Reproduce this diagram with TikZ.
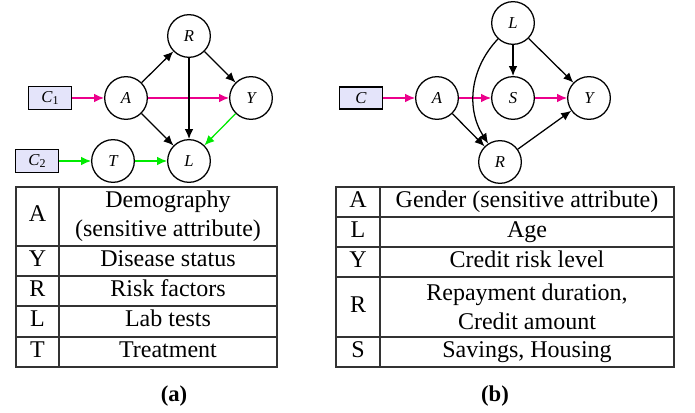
\documentclass[tikz,border=0pt]{standalone}
\usepackage{fontspec}
\setmainfont{Liberation Serif}
\usetikzlibrary{arrows.meta}

\definecolor{cpink}{RGB}{236,0,140}
\definecolor{cgreen}{RGB}{0,235,0}
\definecolor{cbox}{RGB}{228,228,250}

\tikzset{
  var/.style={draw, circle, line width=0.95pt, minimum size=32pt, inner sep=0pt,
    font=\fontsize{12.5}{14}\selectfont\itshape},
  ctx/.style={draw, line width=0.95pt, fill=cbox, minimum width=32pt, minimum height=17.5pt,
    inner sep=0pt, font=\fontsize{12.5}{14}\selectfont},
  edge/.style={-{Latex[length=7.5pt,width=6.5pt]}, line width=0.95pt},
  cell/.style={inner sep=0pt, font=\fontsize{18}{22}\selectfont, text height=12.6pt, text depth=4.5pt},
  cellx/.style={inner sep=0pt, font=\fontsize{18}{22}\selectfont, align=center},
  rule/.style={line width=0.9pt, color=black!80},
  subcap/.style={font=\fontsize{17}{19}\selectfont\bfseries}
}

\newcommand{\subone}[1]{\textit{C}\raisebox{-0.35ex}{\fontsize{9}{10}\selectfont #1}}

\begin{document}
\begin{tikzpicture}[x=0.75pt,y=0.75pt,yscale=-1]
\useasboundingbox (0,0) rectangle (695,413);

% Graph (a)
\node [var] (aR) at (189,36) {R};
\node [var] (aA) at (126,98) {A};
\node [var] (aY) at (251,98) {Y};
\node [var] (aL) at (189,161) {L};
\node [var] (aT) at (113,161) {T};
\node [ctx] (aC1) at (50,98) {\subone{1}};
\node [ctx] (aC2) at (37,161) {\subone{2}};

\draw [edge, cpink] (aC1) -- (aA);
\draw [edge, cpink] (aA) -- (aY);
\draw [edge] (aA) -- (aR);
\draw [edge] (aA) -- (aL);
\draw [edge] (aR) -- (aY);
\draw [edge] (aR) -- (aL);
\draw [edge, cgreen] (aY) -- (aL);
\draw [edge, cgreen] (aC2) -- (aT);
\draw [edge, cgreen] (aT) -- (aL);

% Table (a)
\draw [rule] (16,187) rectangle (277,367);
\draw [rule] (59,187) -- (59,367);
\foreach \y in {246,276,306,337} {
  \draw [rule] (16,\y) -- (277,\y);
}
\node [cell] (taA) at (37.5,216.5) {A};
\node [cellx] (taAd) at (168,216.5) {Demography\\(sensitive attribute)};
\node [cell] (taY) at (37.5,261) {Y};
\node [cell] (taYd) at (168,261) {Disease status};
\node [cell] (taR) at (37.5,291) {R};
\node [cell] (taRd) at (168,291) {Risk factors};
\node [cell] (taL) at (37.5,321.5) {L};
\node [cell] (taLd) at (168,321.5) {Lab tests};
\node [cell] (taT) at (37.5,352) {T};
\node [cell] (taTd) at (168,352) {Treatment};

% Text Node
\node [subcap] (capa) at (174,396) {(a)};

% Graph (b)
\node [var] (bL) at (513,23) {L};
\node [var] (bA) at (437,98) {A};
\node [var] (bS) at (513,98) {S};
\node [var] (bY) at (589,98) {Y};
\node [var] (bR) at (500,162) {R};
\node [ctx, minimum height=16.5pt] (bC) at (361,98) {\textit{C}};

\draw [edge, cpink] (bC) -- (bA);
\draw [edge, cpink] (bA) -- (bS);
\draw [edge, cpink] (bS) -- (bY);
\draw [edge] (bL) -- (bS);
\draw [edge] (bL) -- (bY);
\draw [edge] (bL) to [bend left=38] (bR);
\draw [edge] (bA) -- (bR);
\draw [edge] (bR) -- (bY);

% Table (b)
\draw [rule] (336,187) rectangle (674,367);
\draw [rule] (380,187) -- (380,367);
\foreach \y in {217,247,277,337} {
  \draw [rule] (336,\y) -- (674,\y);
}
\node [cell] (tbA) at (358,202) {A};
\node [cell] (tbAd) at (527,202) {Gender (sensitive attribute)};
\node [cell] (tbL) at (358,232) {L};
\node [cell] (tbLd) at (527,232) {Age};
\node [cell] (tbY) at (358,262) {Y};
\node [cell] (tbYd) at (527,262) {Credit risk level};
\node [cell] (tbR) at (358,307) {R};
\node [cellx] (tbRd) at (527,307) {Repayment duration,\\Credit amount};
\node [cell] (tbS) at (358,352) {S};
\node [cell] (tbSd) at (527,352) {Savings, Housing};

% Text Node
\node [subcap] (capb) at (495,396) {(b)};

\end{tikzpicture}
\end{document}
